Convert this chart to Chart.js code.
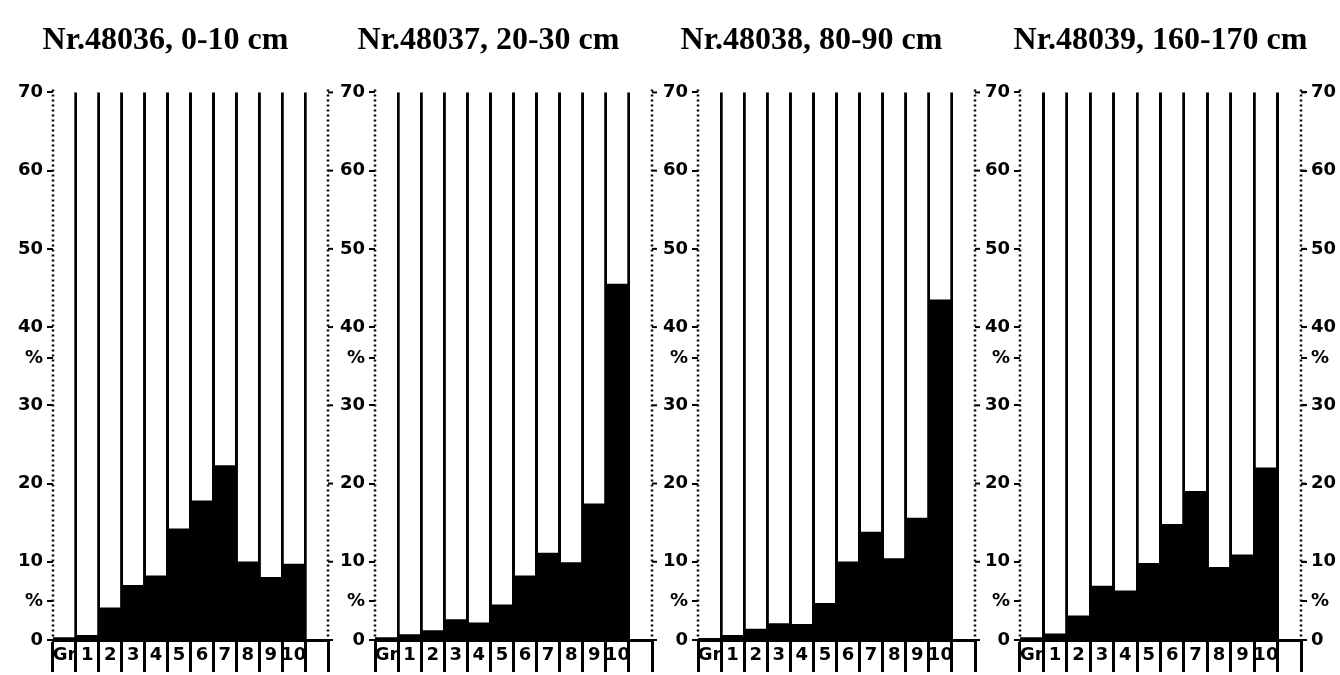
<!DOCTYPE html>
<html>
<head>
<meta charset="utf-8">
<script src="https://cdn.jsdelivr.net/npm/chart.js@4.4.1/dist/chart.umd.min.js"></script>
<style>
  html, body { margin: 0; padding: 0; background: #fff; }
  #wrap { position: relative; width: 1340px; height: 675px; overflow: hidden; }
  #wrap canvas { position: absolute; top: 0; }
</style>
</head>
<body>
<div id="wrap"></div>
<script>
// grain size classes, Gr = gravel, last column left empty
const categories = ['Gr', '1', '2', '3', '4', '5', '6', '7', '8', '9', '10', ''];
const yTicks = [0, 10, 20, 30, 40, 50, 60, 70];
const percentMarks = [36, 5];

const titles = ['Nr.48036, 0-10 cm', 'Nr.48037, 20-30 cm', 'Nr.48038, 80-90 cm', 'Nr.48039, 160-170 cm'];

// percent per class
const sample48036 = [0.3, 0.6, 4.1, 7.0, 8.2, 14.2, 17.8, 22.3, 10.0, 8.0, 9.7, 0];
const sample48037 = [0.3, 0.7, 1.2, 2.6, 2.2, 4.5, 8.2, 11.1, 9.9, 17.4, 45.5, 0];
const sample48038 = [0.2, 0.6, 1.4, 2.1, 2.0, 4.7, 10.0, 13.8, 10.4, 15.6, 43.5, 0];
const sample48039 = [0.3, 0.8, 3.1, 6.9, 6.3, 9.8, 14.8, 19.0, 9.3, 10.9, 22.0, 0];

const samples = [sample48036, sample48037, sample48038, sample48039];
const axisLeft = [53, 375, 698, 1020];
const axisRight = [328, 652, 975, 1301];
const SIDE = 50;

const tickFont = {family: '"DejaVu Sans", sans-serif', size: 18, weight: 'bold'};

// dotted vertical axes on both sides, with small ticks on the right one
const dottedAxes = {
  id: 'dottedAxes',
  afterDatasetsDraw(chart) {
    const {ctx, chartArea: a} = chart;
    const y = chart.scales.y;
    ctx.save();
    ctx.strokeStyle = '#000';
    ctx.lineWidth = 2.5;
    ctx.setLineDash([2, 3]);
    [a.left, a.right].forEach(x => {
      ctx.beginPath();
      ctx.moveTo(x, a.top - 3);
      ctx.lineTo(x, a.bottom);
      ctx.stroke();
    });
    ctx.setLineDash([]);
    ctx.lineWidth = 2;
    yTicks.forEach(v => {
      const py = y.getPixelForValue(v);
      ctx.beginPath();
      ctx.moveTo(a.right, py);
      ctx.lineTo(a.right + 5, py);
      ctx.stroke();
    });
    ctx.restore();
  }
};

function yScale(position) {
  return {
    type: 'linear',
    position: position,
    stacked: true,
    min: 0,
    max: 70,
    afterBuildTicks: scale => {
      scale.ticks = yTicks.map(v => ({value: v})).concat(percentMarks.map(v => ({value: v})));
    },
    afterFit: scale => { scale.width = SIDE; },
    ticks: {
      color: '#000',
      font: tickFont,
      padding: 4,
      autoSkip: false,
      callback: v => (v % 10 === 0 ? v : '%')
    },
    grid: {drawOnChartArea: false, color: '#000', lineWidth: 2, tickLength: 6},
    border: {display: false}
  };
}

samples.forEach((values, i) => {
  const canvas = document.createElement('canvas');
  const w = (axisRight[i] - axisLeft[i]) + 2 * SIDE;
  canvas.width = w;
  canvas.height = 675;
  canvas.style.left = (axisLeft[i] - SIDE) + 'px';
  canvas.style.width = w + 'px';
  canvas.style.height = '675px';
  document.getElementById('wrap').appendChild(canvas);

  const scales = {
    x: {
      stacked: true,
      offset: true,
      afterFit: scale => { scale.height = 35; },
      ticks: {color: '#000', font: tickFont, padding: -27, autoSkip: false, maxRotation: 0},
      grid: {
        offset: true,
        // no solid separator on the two outer edges, the dotted axes go there
        color: c => (c.index === undefined || c.index === 0 ? 'rgba(0,0,0,0)' : '#000'),
        tickColor: '#000',
        lineWidth: 3,
        tickWidth: 3,
        tickLength: 32
      },
      border: {display: true, color: '#000', width: 3}
    },
    y: yScale('left')
  };
  if (i === 3) {
    scales.y2 = Object.assign(yScale('right'), {stacked: false});
  }

  new Chart(canvas, {
    type: 'bar',
    data: {
      labels: categories,
      datasets: [
        {
          label: 'Anteil',
          data: values,
          backgroundColor: '#000',
          borderWidth: 0,
          barPercentage: 1,
          categoryPercentage: 1
        },
        {
          label: 'Rest',
          data: values.map(v => 70 - v),
          backgroundColor: '#fff',
          borderWidth: 0,
          barPercentage: 0.86,
          categoryPercentage: 1
        }
      ]
    },
    options: {
      responsive: false,
      animation: false,
      layout: {padding: {right: i === 3 ? 0 : SIDE, bottom: 0}},
      plugins: {
        legend: {display: false},
        tooltip: {enabled: false},
        title: {
          display: true,
          text: titles[i],
          color: '#000',
          font: {family: '"Liberation Serif", serif', size: 32, weight: 'bold'},
          padding: {top: 22, bottom: 32}
        }
      },
      scales: scales
    },
    plugins: [dottedAxes]
  });
});
</script>
</body>
</html>
